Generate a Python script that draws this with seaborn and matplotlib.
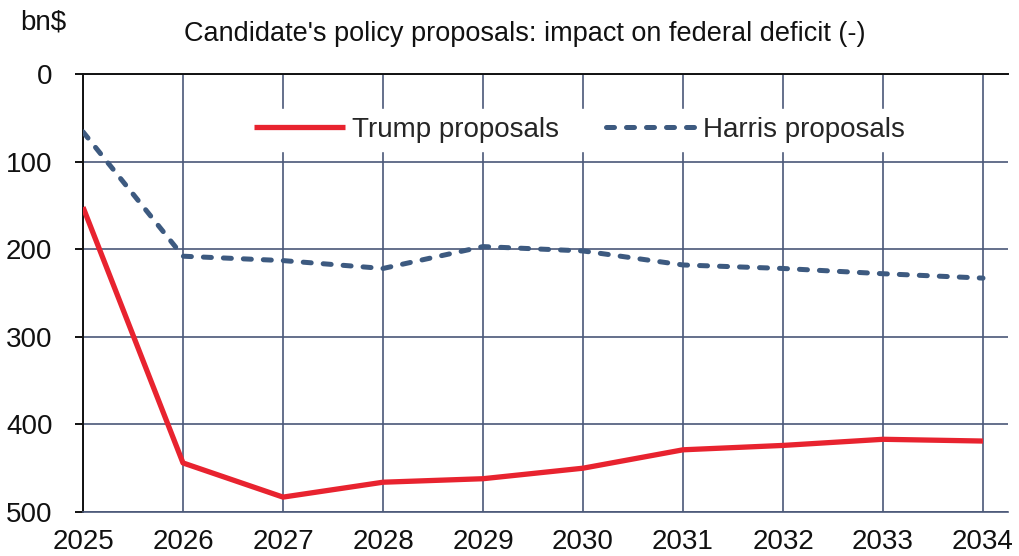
import matplotlib
matplotlib.use("Agg")
import matplotlib.pyplot as plt
import seaborn as sns
import pandas as pd

years = [2025, 2026, 2027, 2028, 2029, 2030, 2031, 2032, 2033, 2034]
trump = [152, 444, 483, 466, 462, 450, 429, 424, 417, 419]
harris = [66, 208, 213, 222, 197, 202, 218, 222, 228, 233]
series_names = ["Trump proposals", "Harris proposals"]
y_ticks = [0, 100, 200, 300, 400, 500]

sns.set_theme(style="white")
plt.rcParams['font.family'] = ['Liberation Sans', 'DejaVu Sans']

grid_c = "#4A5878"
red = "#E8232F"
blue = "#3D5A80"

fig = plt.figure(figsize=(10.2, 5.56), dpi=100)
W, H = 1020, 556
ax = fig.add_axes([83 / W, 1 - 512 / H, (1008 - 83) / W, (512 - 74) / H])

df = pd.DataFrame({"year": years, series_names[0]: trump, series_names[1]: harris})

sns.lineplot(data=df, x="year", y=series_names[0], ax=ax, color=red, lw=3.8,
             label=series_names[0], solid_capstyle="butt", zorder=4)
sns.lineplot(data=df, x="year", y=series_names[1], ax=ax, color=blue, lw=3.6,
             label=series_names[1], dashes=(1.6, 2.4), dash_capstyle="round",
             zorder=4)

ax.set_xlim(2025, 2034.25)
ax.set_ylim(500, 0)
ax.set_xticks(years)
ax.set_yticks(y_ticks)
ax.set_xticklabels([str(y) for y in years])
ax.set_xlabel("")
ax.set_ylabel("")

ax.grid(True, color=grid_c, lw=1.2)
ax.set_axisbelow(True)
ax.spines["right"].set_visible(False)
ax.spines["left"].set_color("#111111")
ax.spines["left"].set_linewidth(1.4)
ax.spines["top"].set_color("#111111")
ax.spines["top"].set_linewidth(1.4)
ax.spines["bottom"].set_color(grid_c)
ax.spines["bottom"].set_linewidth(1.2)

ax.tick_params(axis="y", left=True, length=6, width=1.4, color="#111111",
               pad=16, labelsize=20, labelcolor="#111111")
ax.tick_params(axis="x", bottom=False, length=0, pad=12, labelsize=20,
               labelcolor="#111111")

leg = ax.legend(loc="center", bbox_to_anchor=(0.537, 0.872), ncol=2,
                frameon=True, fontsize=20, handlelength=3.25, columnspacing=1.7,
                handletextpad=0.25, borderpad=0.3)
leg.get_frame().set_facecolor("white")
leg.get_frame().set_edgecolor("white")
leg.get_frame().set_alpha(1)

fig.text(525 / W, 1 - 34 / H, "Candidate's policy proposals: impact on federal deficit (-)",
         ha="center", va="center", fontsize=19.5, color="#111111")
fig.text(20 / W, 1 - 22 / H, "bn$", ha="left", va="center", fontsize=20, color="#111111")

fig.savefig("out.png", dpi=100)
